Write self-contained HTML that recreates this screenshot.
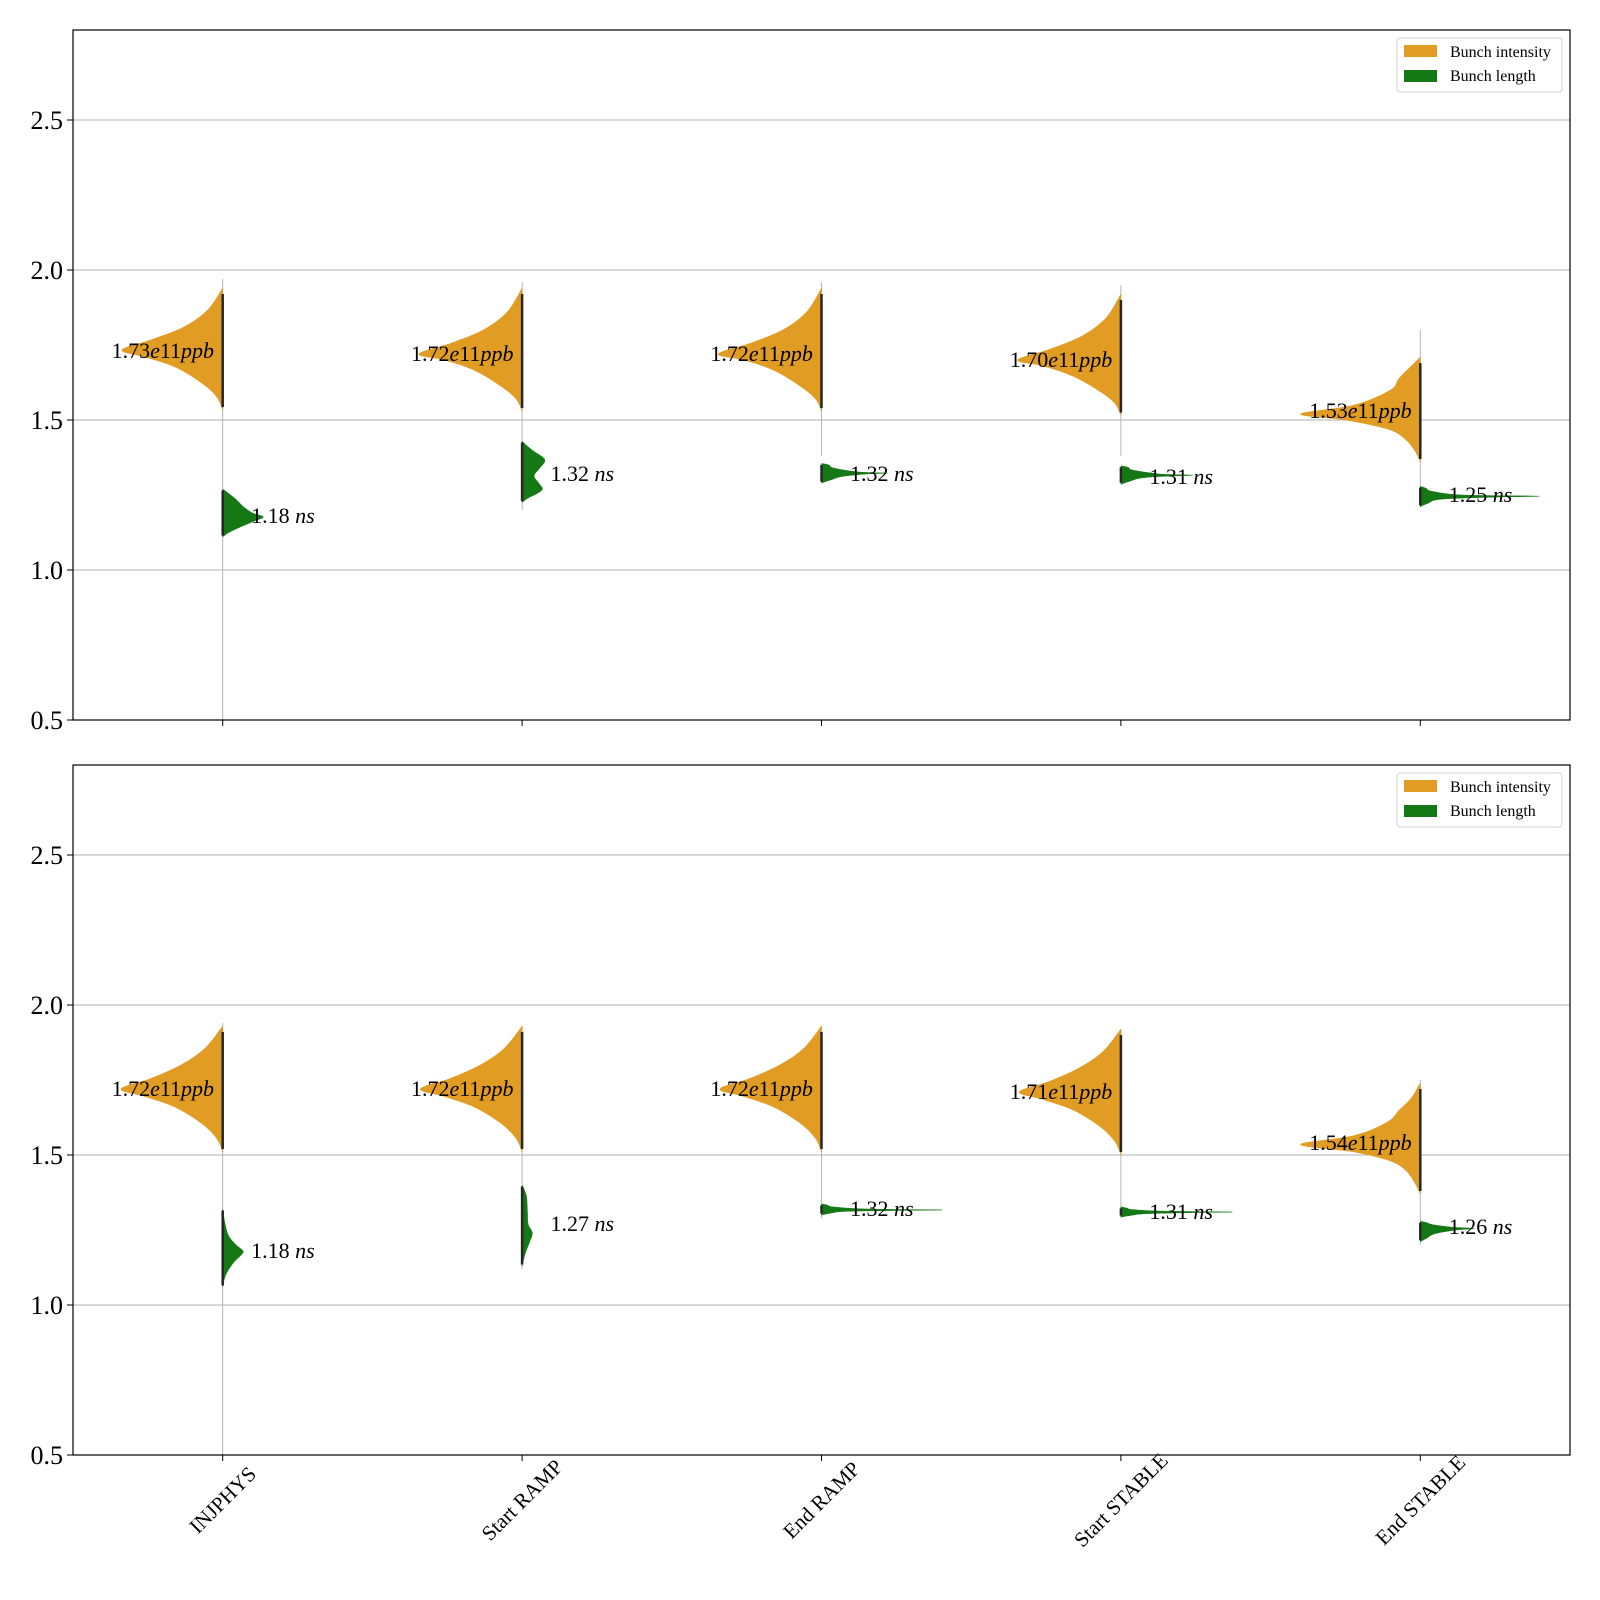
<!DOCTYPE html>
<html><head><meta charset="utf-8">
<style>
html,body{margin:0;padding:0;background:#fff;}
svg{display:block;font-family:"Liberation Serif","DejaVu Serif",serif;}
</style></head>
<body>
<svg id="chart" width="1600" height="1600" viewBox="0 0 1600 1600"></svg>
<script>
const cats = ['INJPHYS','Start RAMP','End RAMP','Start STABLE','End STABLE'];
const yTicks = [0.5,1.0,1.5,2.0,2.5];
const yTickLabels = ['0.5','1.0','1.5','2.0','2.5'];

// TOP panel
const topIntPeaks = [1.73,1.72,1.72,1.70,1.53];
const topIntLabels = ['1.73','1.72','1.72','1.70','1.53'];
const topIntVals = [
 [1.533,1.577,1.623,1.677,1.71,1.733,1.767,1.81,1.867,1.94],
 [1.53,1.57,1.612,1.666,1.70,1.72,1.755,1.80,1.86,1.94],
 [1.53,1.57,1.612,1.666,1.70,1.72,1.755,1.80,1.86,1.94],
 [1.515,1.555,1.595,1.646,1.68,1.70,1.735,1.78,1.84,1.92],
 [1.36,1.40,1.44,1.47,1.50,1.52,1.55,1.60,1.64,1.68,1.71]
];
const topIntWidths = [
 [0,0.02,0.07,0.16,0.26,0.337,0.24,0.13,0.05,0],
 [0,0.02,0.07,0.16,0.26,0.345,0.24,0.13,0.05,0],
 [0,0.02,0.07,0.16,0.26,0.345,0.24,0.13,0.05,0],
 [0,0.02,0.07,0.16,0.26,0.345,0.24,0.13,0.05,0],
 [0,0.02,0.055,0.11,0.25,0.40,0.22,0.10,0.07,0.03,0]
];
const topLenPeaks = [1.18,1.32,1.32,1.31,1.25];
const topLenLabels = ['1.18','1.32','1.32','1.31','1.25'];
const topLenVals = [
 [1.11,1.125,1.143,1.165,1.177,1.19,1.21,1.233,1.255,1.27],
 [1.225,1.24,1.255,1.27,1.29,1.313,1.335,1.36,1.375,1.395,1.415,1.43],
 [1.29,1.30,1.312,1.32,1.323,1.327,1.34,1.35,1.355],
 [1.286,1.296,1.307,1.313,1.316,1.32,1.333,1.342,1.347],
 [1.211,1.222,1.236,1.243,1.246,1.25,1.262,1.272,1.279]
];
const topLenWidths = [
 [0,0.02,0.058,0.11,0.136,0.10,0.07,0.047,0.02,0],
 [0,0.02,0.05,0.068,0.055,0.04,0.055,0.075,0.07,0.04,0.015,0],
 [0,0.03,0.07,0.15,0.22,0.12,0.04,0.025,0],
 [0,0.03,0.07,0.16,0.24,0.13,0.04,0.025,0],
 [0,0.025,0.07,0.25,0.395,0.14,0.04,0.02,0]
];
const topWhiskLo = [0.5,1.20,1.38,1.38,1.21];
const topWhiskHi = [1.97,1.96,1.96,1.95,1.80];

// BOTTOM panel
const botIntPeaks = [1.72,1.72,1.72,1.71,1.54];
const botIntLabels = ['1.72','1.72','1.72','1.71','1.54'];
const botIntVals = [
 [1.51,1.555,1.605,1.66,1.695,1.72,1.755,1.80,1.855,1.93],
 [1.51,1.555,1.605,1.66,1.695,1.72,1.755,1.80,1.855,1.93],
 [1.51,1.555,1.605,1.66,1.695,1.72,1.755,1.80,1.855,1.93],
 [1.50,1.545,1.595,1.65,1.685,1.71,1.745,1.79,1.845,1.92],
 [1.37,1.41,1.45,1.48,1.51,1.535,1.565,1.61,1.65,1.69,1.74]
];
const botIntWidths = [
 [0,0.02,0.07,0.16,0.26,0.34,0.24,0.14,0.06,0],
 [0,0.02,0.07,0.16,0.26,0.34,0.24,0.14,0.06,0],
 [0,0.02,0.07,0.16,0.26,0.34,0.24,0.14,0.06,0],
 [0,0.02,0.07,0.16,0.26,0.34,0.24,0.14,0.06,0],
 [0,0.02,0.05,0.10,0.22,0.40,0.22,0.11,0.07,0.03,0]
];
const botLenPeaks = [1.18,1.27,1.32,1.31,1.26];
const botLenLabels = ['1.18','1.27','1.32','1.31','1.26'];
const botLenVals = [
 [1.06,1.10,1.14,1.165,1.18,1.20,1.23,1.27,1.32],
 [1.13,1.17,1.21,1.24,1.27,1.31,1.36,1.39,1.40],
 [1.30,1.306,1.312,1.315,1.317,1.32,1.327,1.333,1.337],
 [1.293,1.298,1.304,1.308,1.31,1.313,1.318,1.323,1.327],
 [1.211,1.222,1.238,1.25,1.255,1.26,1.268,1.275,1.279]
];
const botLenWidths = [
 [0,0.01,0.035,0.06,0.068,0.045,0.02,0.008,0],
 [0,0.01,0.025,0.034,0.02,0.018,0.015,0.005,0],
 [0,0.03,0.08,0.25,0.40,0.15,0.04,0.02,0],
 [0,0.03,0.08,0.24,0.37,0.14,0.04,0.02,0],
 [0,0.02,0.05,0.12,0.18,0.10,0.04,0.02,0]
];
const botWhiskLo = [0.5,1.12,1.29,1.29,1.20];
const botWhiskHi = [1.94,1.93,1.93,1.92,1.75];

const NS='http://www.w3.org/2000/svg';
const svg=document.getElementById('chart');
const AX_L=73, AX_R=1570, AX_H=690;
const xUnit=(AX_R-AX_L)/5;
function xs(i){return AX_L+(i+0.5)*xUnit;}
function mk(tag,attrs,parent){const e=document.createElementNS(NS,tag);for(const k in attrs)e.setAttribute(k,attrs[k]);(parent||svg).appendChild(e);return e;}
const ORANGE='#e09c23', GREEN='#147814';

function smoothPath(pts){
  let d='M'+pts[0][0].toFixed(1)+','+pts[0][1].toFixed(1);
  for(let i=0;i<pts.length-1;i++){
    const p0=pts[Math.max(0,i-1)],p1=pts[i],p2=pts[i+1],p3=pts[Math.min(pts.length-1,i+2)];
    const c1=[p1[0]+(p2[0]-p0[0])/6,p1[1]+(p2[1]-p0[1])/6];
    const c2=[p2[0]-(p3[0]-p1[0])/6,p2[1]-(p3[1]-p1[1])/6];
    d+=' C'+c1[0].toFixed(1)+','+c1[1].toFixed(1)+' '+c2[0].toFixed(1)+','+c2[1].toFixed(1)+' '+p2[0].toFixed(1)+','+p2[1].toFixed(1);
  }
  return d+' Z';
}

function panel(top,name,intVals,intW,intPeaks,intLabels,lenVals,lenW,lenPeaks,lenLabels,wLo,wHi,showX){
  const ys=v=>top+(2.8-v)*(AX_H/2.3);
  const g=mk('g',{});
  
  
  yTicks.forEach((t,k)=>{
    if(t>0.5){const l=mk('line',{x1:AX_L,x2:AX_R,y1:ys(t),y2:ys(t),stroke:'#b0b0b0','stroke-width':1},g);
      
      }
    const tk=mk('line',{x1:AX_L-6,x2:AX_L,y1:ys(t),y2:ys(t),stroke:'#000','stroke-width':1},g);
    
    
    const tx=mk('text',{x:AX_L-10,y:ys(t)+9,'text-anchor':'end','font-size':26,fill:'#000'},g);
    tx.textContent=yTickLabels[k];
    
    
  });
  cats.forEach((c,i)=>{
    const cx=xs(i);
    const wl=mk('line',{x1:cx,x2:cx,y1:ys(wLo[i]),y2:ys(wHi[i]),stroke:'#b5b5b5','stroke-width':1},g);
    
    
    const pts1=intVals[i].map((v,j)=>[cx-intW[i][j]*xUnit,ys(v)]);
    const p1=mk('path',{d:smoothPath(pts1),fill:ORANGE,stroke:ORANGE,'stroke-width':0.5},g);
    
    
    const pts2=lenVals[i].map((v,j)=>[cx+lenW[i][j]*xUnit,ys(v)]);
    const p2=mk('path',{d:smoothPath(pts2),fill:GREEN,stroke:GREEN,'stroke-width':0.5},g);
    
    
    const s1=mk('line',{x1:cx,x2:cx,y1:ys(intVals[i][0]+0.01),y2:ys(intVals[i][intVals[i].length-1]-0.02),stroke:'#262626','stroke-width':2.5},g);
    
    
    const s2=mk('line',{x1:cx,x2:cx,y1:ys(lenVals[i][0]+0.005),y2:ys(lenVals[i][lenVals[i].length-1]-0.005),stroke:'#262626','stroke-width':2.5},g);
    
    
    const t1=mk('text',{x:cx-0.2*xUnit,y:ys(intPeaks[i])+7,'text-anchor':'middle','font-size':22,fill:'#000'},g);
    t1.innerHTML=intLabels[i]+'<tspan font-style="italic">e</tspan>11<tspan font-style="italic">ppb</tspan>';
    
    
    const t2=mk('text',{x:cx+0.095*xUnit,y:ys(lenPeaks[i])+7,'text-anchor':'start','font-size':22,fill:'#000'},g);
    t2.innerHTML=lenLabels[i]+' <tspan font-style="italic">ns</tspan>';
    
    
    const xt=mk('line',{x1:cx,x2:cx,y1:top+AX_H,y2:top+AX_H+6,stroke:'#000','stroke-width':1},g);
    
    
    if(showX){
      const ty=top+AX_H+52;
      const xl=mk('text',{x:cx,y:ty,'text-anchor':'middle','font-size':21,fill:'#000',transform:'rotate(-45 '+cx+' '+(ty-7)+')'},g);
      xl.textContent=c;
      
      
    }
  });
  const fr=mk('rect',{x:AX_L,y:top,width:AX_R-AX_L,height:AX_H,fill:'none',stroke:'#000','stroke-width':1.2},g);
  
  
  const lg=mk('g',{},g);
  
  
  mk('rect',{x:1397,y:top+8,width:165,height:54,rx:3,fill:'#fff','fill-opacity':0.8,stroke:'#d0d0d0'},lg);
  const e1=mk('rect',{x:1404,y:top+15,width:33,height:12,fill:ORANGE},lg);
  
  
  const e2=mk('rect',{x:1404,y:top+40,width:33,height:12,fill:GREEN},lg);
  
  
  const lt1=mk('text',{x:1450,y:top+27,'font-size':16,fill:'#000'},lg);
  lt1.textContent='Bunch intensity';
  
  
  const lt2=mk('text',{x:1450,y:top+51,'font-size':16,fill:'#000'},lg);
  lt2.textContent='Bunch length';
  
  
}
panel(30,'top-panel',topIntVals,topIntWidths,topIntPeaks,topIntLabels,topLenVals,topLenWidths,topLenPeaks,topLenLabels,topWhiskLo,topWhiskHi,false);
panel(765,'bottom-panel',botIntVals,botIntWidths,botIntPeaks,botIntLabels,botLenVals,botLenWidths,botLenPeaks,botLenLabels,botWhiskLo,botWhiskHi,true);
</script>
</body></html>
